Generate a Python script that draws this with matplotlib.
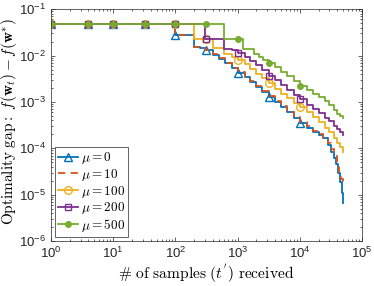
import matplotlib.pyplot as plt
import numpy as np

plt.rcParams['mathtext.fontset'] = 'cm'
plt.rcParams['font.family'] = ['Liberation Sans', 'DejaVu Sans']

# step breakpoints (samples, optimality gap)
x_mu0 = [1, 100, 200, 250, 316, 400, 500, 630, 800, 1000, 1300, 1600, 2000, 2500, 3162,
         4000, 5000, 6300, 8000, 10000, 13000, 16000, 20000, 24000, 28000, 32000,
         35000, 38000, 41000, 44000, 47000, 49000]
y_mu0 = [0.047, 0.028, 0.0153, 0.0142, 0.013, 0.0105, 0.0085, 0.0068, 0.0054, 0.0043,
         0.0034, 0.0027, 0.0021, 0.0016, 0.0013, 0.001, 0.00078, 0.0006, 0.00046, 0.00035,
         0.00028, 0.00023, 0.000195, 0.000165, 0.00012, 8.5e-5, 6.2e-5, 4.5e-5, 3e-5,
         1.9e-5, 1.1e-5, 6.5e-6]

x_mu10 = [1, 100, 200, 250, 316, 400, 500, 630, 800, 1000, 1300, 1600, 2000, 2500, 3162,
          4000, 5000, 6300, 8000, 10000, 13000, 16000, 20000, 24000, 28000, 32000,
          35000, 39000, 43000, 46000, 49000]
y_mu10 = [0.047, 0.028, 0.0153, 0.0142, 0.013, 0.0107, 0.0087, 0.0069, 0.0055, 0.0044,
          0.0035, 0.0028, 0.0022, 0.0017, 0.00135, 0.00105, 0.0008, 0.00062, 0.00048,
          0.00037, 0.0003, 0.00024, 0.0002, 0.00017, 0.00013, 9.5e-5, 7e-5, 4e-5, 3e-5,
          2.2e-5, 1.5e-5]

x_mu100 = [1, 200, 400, 600, 800, 1000, 1300, 1600, 2000, 2500, 3162, 4000, 5000, 6300,
           8000, 10000, 13000, 16000, 20000, 25000, 30000, 35000, 40000, 45000, 49000]
y_mu100 = [0.047, 0.0225, 0.0142, 0.011, 0.0095, 0.0082, 0.0065, 0.0052, 0.0041, 0.0032,
           0.0025, 0.0019, 0.0015, 0.0012, 0.00096, 0.00078, 0.0006, 0.00048, 0.00037,
           0.00028, 0.00022, 0.00017, 0.00013, 0.000105, 8.5e-5]

x_mu200 = [1, 300, 600, 800, 1000, 1300, 1600, 2000, 2500, 3162, 4000, 5000, 6300, 8000,
           10000, 13000, 16000, 20000, 25000, 30000, 35000, 40000, 45000, 49000]
y_mu200 = [0.047, 0.0225, 0.0141, 0.013, 0.0116, 0.0095, 0.0078, 0.0062, 0.0048, 0.0036,
           0.0029, 0.0023, 0.0018, 0.0014, 0.00114, 0.00088, 0.00072, 0.00058, 0.00046,
           0.00038, 0.00031, 0.00026, 0.00022, 0.00019]

x_mu500 = [1, 600, 1230, 1860, 2200, 2600, 3162, 4000, 5000, 6300, 8000, 10000, 13000,
           16000, 20000, 25000, 30000, 35000, 40000, 45000, 49000]
y_mu500 = [0.047, 0.0225, 0.0141, 0.011, 0.0095, 0.0082, 0.0069, 0.0056, 0.0045, 0.0036,
           0.0028, 0.0022, 0.0018, 0.0015, 0.0013, 0.00105, 0.00085, 0.00068, 0.00056,
           0.00049, 0.00044]

marker_x = [1, 4, 10, 32, 100, 316, 1000, 3162, 10000]
labels = [r'$\mu = 0$', r'$\mu = 10$', r'$\mu = 100$', r'$\mu = 200$', r'$\mu = 500$']

series = [(x_mu0, y_mu0), (x_mu10, y_mu10), (x_mu100, y_mu100),
          (x_mu200, y_mu200), (x_mu500, y_mu500)]
colors = ['#0072BD', '#D95319', '#EDB120', '#7E2F8E', '#77AC30']
styles = ['-', (0, (4, 3)), '-', '-', '-']
markers = ['^', None, 'o', 's', 'o']
mfaces = ['none', 'none', 'none', 'none', '#77AC30']
msizes = [5.5, 0, 5.5, 5, 4]

fig = plt.figure(figsize=(3.74, 2.86), dpi=100)
ax = fig.add_axes([0.136, 0.157, 0.832, 0.811])

for (xs, ys), c, ls, m, mf, ms, lab in zip(series, colors, styles, markers, mfaces, msizes, labels):
    xs = np.array(xs, dtype=float)
    ys = np.array(ys, dtype=float)
    ax.plot(xs, ys, drawstyle='steps-post', color=c, linestyle=ls, lw=1.3)
    if m is not None:
        idx = np.searchsorted(xs, marker_x, side='right') - 1
        ax.plot(marker_x, ys[idx], linestyle='none', marker=m, color=c,
                markerfacecolor=mf, markersize=ms, markeredgewidth=1.0)
    ax.plot([], [], color=c, linestyle=ls, lw=1.3, marker=m, markerfacecolor=mf,
            markersize=ms, markeredgewidth=1.0, label=lab)

ax.set_xscale('log')
ax.set_yscale('log')
ax.set_xlim(1, 1e5)
ax.set_ylim(1e-6, 1e-1)

ax.tick_params(which='both', direction='in', top=True, right=True, colors='0.15',
               labelsize=9.5, width=0.5)
ax.tick_params(which='major', length=3)
ax.tick_params(which='minor', length=1.5)
ax.xaxis.set_major_locator(plt.LogLocator(base=10, numticks=10))
ax.xaxis.set_minor_locator(plt.LogLocator(base=10, subs=np.arange(2, 10), numticks=20))
ax.yaxis.set_minor_locator(plt.LogLocator(base=10, subs=np.arange(2, 10), numticks=20))
for s in ax.spines.values():
    s.set_linewidth(0.5)
    s.set_color('0.15')

ax.set_ylabel(r"$\mathrm{Optimality\ gap:}\ f(\mathbf{w}_t) - f(\mathbf{w}^{*})$",
              fontsize=11, labelpad=0)
ax.set_xlabel(r"$\#\ \mathrm{of\ samples}\ (t^{'})\ \mathrm{received}$", fontsize=11.2,
              labelpad=1)
ax.yaxis.set_label_coords(-0.103, 0.515)

leg = ax.legend(loc='lower left', fontsize=9.5, handlelength=1.5, handletextpad=0.2,
                borderpad=0.25, labelspacing=0.05, fancybox=False, framealpha=1,
                borderaxespad=0.3)
leg.get_frame().set_linewidth(0.5)
leg.get_frame().set_edgecolor('0.15')

fig.savefig('out.png', dpi=100)
